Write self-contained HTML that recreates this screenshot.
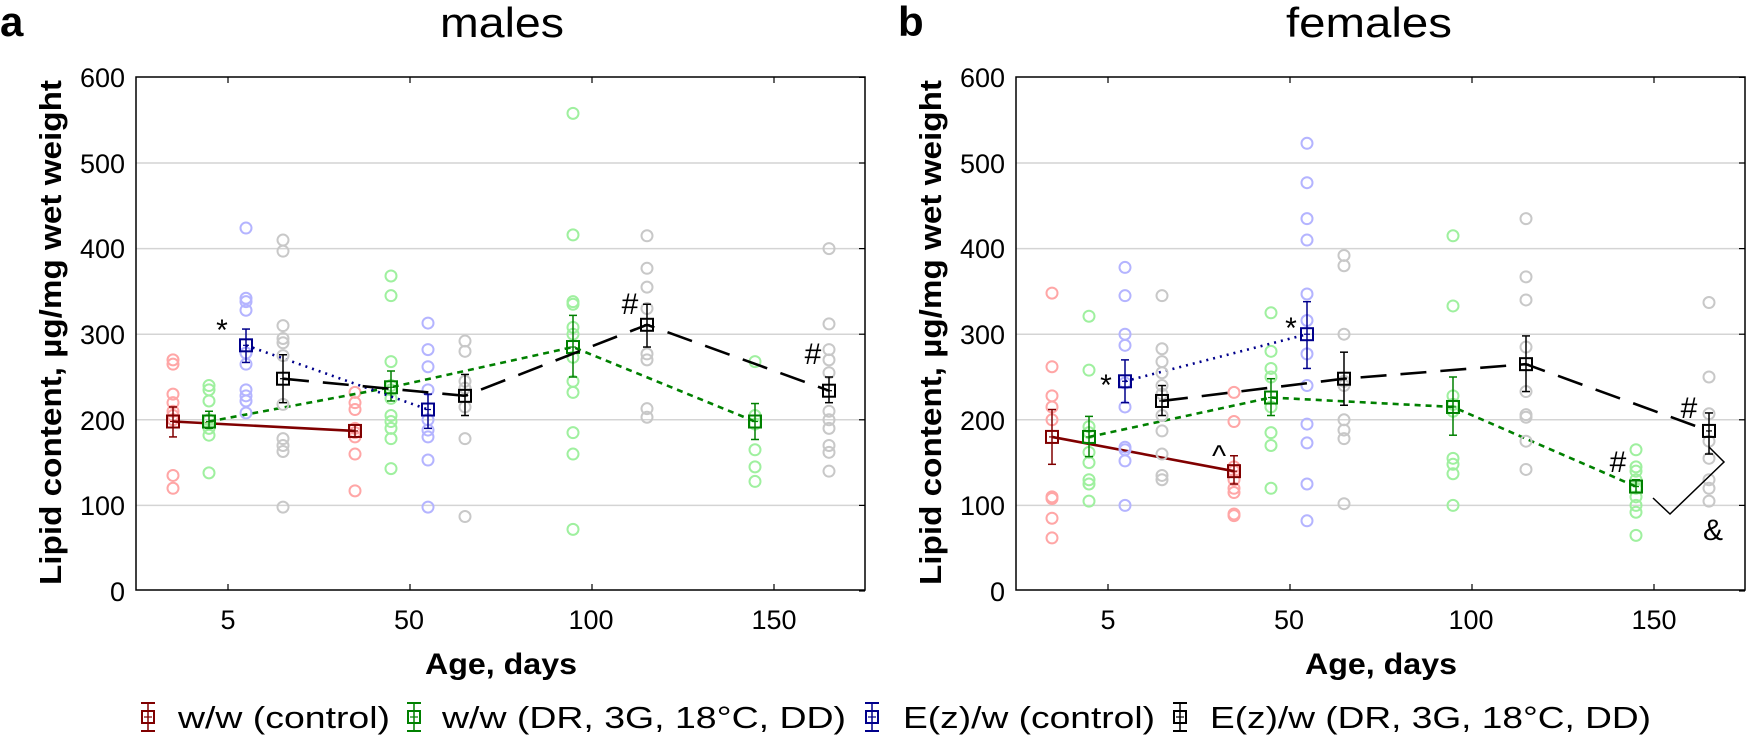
<!DOCTYPE html>
<html><head><meta charset="utf-8"><style>
html,body{margin:0;padding:0;background:#fff}
svg{display:block}
.tk{font-family:"Liberation Sans Narrow","Liberation Sans",sans-serif;font-size:27px;fill:#000}
.bl{font-family:"Liberation Sans",sans-serif;font-weight:bold;fill:#000}
.tt{font-family:"Liberation Sans",sans-serif;font-size:42px;fill:#000}
.lg{font-family:"Liberation Sans Narrow","Liberation Sans",sans-serif;font-size:31px;fill:#000}
.an{font-family:"Liberation Sans",sans-serif;font-size:30px;fill:#000}
</style></head><body>
<svg id="s" width="1746" height="741" viewBox="0 0 1746 741" xmlns="http://www.w3.org/2000/svg">
<g id="g"></g>
<text class="bl" x="0" y="36" font-size="42">a</text>
<text class="bl" x="898" y="36" font-size="42">b</text>
<text class="tt" x="440" y="37" textLength="124" lengthAdjust="spacingAndGlyphs">males</text>
<text class="tt" x="1286" y="37" textLength="166" lengthAdjust="spacingAndGlyphs">females</text>
<text class="bl" font-size="31" transform="translate(61,333) rotate(-90)" x="-252" textLength="505" lengthAdjust="spacingAndGlyphs">Lipid content, µg/mg wet weight</text>
<text class="bl" font-size="31" transform="translate(941,333) rotate(-90)" x="-252" textLength="505" lengthAdjust="spacingAndGlyphs">Lipid content, µg/mg wet weight</text>
<g class="tk" text-anchor="end">
<text x="125" y="87">600</text><text x="125" y="173">500</text><text x="125" y="258">400</text><text x="125" y="344">300</text><text x="125" y="430">200</text><text x="125" y="515">100</text><text x="125" y="601">0</text>
<text x="1005" y="87">600</text><text x="1005" y="173">500</text><text x="1005" y="258">400</text><text x="1005" y="344">300</text><text x="1005" y="430">200</text><text x="1005" y="515">100</text><text x="1005" y="601">0</text>
</g>
<g class="tk" text-anchor="middle">
<text x="228" y="629">5</text><text x="409" y="629">50</text><text x="591" y="629">100</text><text x="774" y="629">150</text>
<text x="1108" y="629">5</text><text x="1289" y="629">50</text><text x="1471" y="629">100</text><text x="1654" y="629">150</text>
</g>
<text class="bl" font-size="30" x="425" y="674" textLength="152" lengthAdjust="spacingAndGlyphs">Age, days</text>
<text class="bl" font-size="30" x="1305" y="674" textLength="152" lengthAdjust="spacingAndGlyphs">Age, days</text>
<g class="lg">
<text x="178" y="728" textLength="212" lengthAdjust="spacingAndGlyphs">w/w (control)</text>
<text x="442" y="728" textLength="404" lengthAdjust="spacingAndGlyphs">w/w (DR, 3G, 18°C, DD)</text>
<text x="903" y="728" textLength="252" lengthAdjust="spacingAndGlyphs">E(z)/w (control)</text>
<text x="1210" y="728" textLength="441" lengthAdjust="spacingAndGlyphs">E(z)/w (DR, 3G, 18°C, DD)</text>
</g>
<g class="an" text-anchor="middle">
<text x="222" y="340">*</text>
<text x="630" y="314">#</text>
<text x="813" y="364">#</text>
<text x="1106" y="395">*</text>
<text x="1291" y="338">*</text>
<text x="1219" y="466">^</text>
<text x="1689" y="418">#</text>
<text x="1618" y="472">#</text>
<text x="1713" y="540">&amp;</text>
</g>
<polyline points="1653,498 1670,514 1724,462 1709,447" fill="none" stroke="#000" stroke-width="1.5"/>
</svg>
<script>
var NS="http://www.w3.org/2000/svg",G=document.getElementById('g');
function el(t,a){var e=document.createElementNS(NS,t);for(var k in a)e.setAttribute(k,a[k]);G.appendChild(e);return e;}
function Y(v){return 591-v*0.856;}
[[136,865],[1016,1745]].forEach(function(f){
 for(var v=100;v<=500;v+=100)el('line',{x1:f[0],x2:f[1],y1:Y(v),y2:Y(v),stroke:'#d4d4d4','stroke-width':1.5});
 for(var v=0;v<=600;v+=100)el('line',{x1:f[1]-6,x2:f[1],y1:Y(v),y2:Y(v),stroke:'#000','stroke-width':1.2});
 for(var i=0;i<4;i++){var x=f[0]+92+i*182;el('line',{x1:x,x2:x,y1:77,y2:83,stroke:'#000','stroke-width':1.2});el('line',{x1:x,x2:x,y1:584,y2:590,stroke:'#000','stroke-width':1.2});}
 el('rect',{x:f[0],y:77,width:f[1]-f[0],height:513,fill:'none',stroke:'#000','stroke-width':1.5});
});
var C={r:['#ffa6a6','#800000','none'],g:['#9ff09f','#008000','6,5'],b:['#b4b4ff','#00008b','2,5'],k:['#c8c8c8','#000','26,14']};
function series(c,groups){
 groups.forEach(function(d){d.p.forEach(function(v){el('circle',{cx:d.x,cy:Y(v),r:5.5,fill:'none',stroke:C[c][0],'stroke-width':2});});});
 var pts=groups.map(function(d){return d.x+','+Y(d.m);}).join(' ');
 var a={points:pts,fill:'none',stroke:C[c][1],'stroke-width':2.6};if(C[c][2]!='none')a['stroke-dasharray']=C[c][2];
 el('polyline',a);
 groups.forEach(function(d){var s=C[c][1];
  el('line',{x1:d.x,x2:d.x,y1:Y(d.lo),y2:Y(d.hi),stroke:s,'stroke-width':1.5});
  el('line',{x1:d.x-4,x2:d.x+4,y1:Y(d.lo),y2:Y(d.lo),stroke:s,'stroke-width':1.5});
  el('line',{x1:d.x-4,x2:d.x+4,y1:Y(d.hi),y2:Y(d.hi),stroke:s,'stroke-width':1.5});
  el('rect',{x:d.x-6,y:Y(d.m)-6,width:12,height:12,fill:'none',stroke:s,'stroke-width':2});
  el('line',{x1:d.x-3,x2:d.x+3,y1:Y(d.m),y2:Y(d.m),stroke:s,'stroke-width':1.2});
 });
}
series('r',[{x:173,m:198,lo:180,hi:215,p:[270,265,230,220,210,200,205,135,120]},{x:355,m:187,lo:180,hi:194,p:[232,220,212,190,185,180,160,117]}]);
series('g',[{x:209,m:198,lo:190,hi:210,p:[240,235,222,200,190,182,138]},{x:391,m:238,lo:222,hi:257,p:[368,345,268,240,235,225,205,198,190,178,143]},{x:573,m:285,lo:250,hi:322,p:[558,416,338,335,308,300,273,245,232,185,160,72]},{x:755,m:198,lo:177,hi:219,p:[268,205,195,165,145,128]}]);
series('b',[{x:246,m:287,lo:267,hi:306,p:[424,342,338,328,278,265,235,228,222,208]},{x:428,m:212,lo:190,hi:230,p:[313,282,262,235,200,188,180,153,98]}]);
series('k',[{x:283,m:248,lo:220,hi:276,p:[410,397,310,295,290,275,218,178,170,163,98]},{x:465,m:228,lo:205,hi:253,p:[292,280,245,237,215,178,87]},{x:647,m:311,lo:285,hi:335,p:[415,377,355,330,277,270,213,203]},{x:829,m:234,lo:220,hi:250,p:[400,312,282,270,255,210,200,190,170,162,140]}]);
series('r',[{x:1052,m:180,lo:148,hi:212,p:[348,262,228,215,200,110,108,85,62]},{x:1234,m:140,lo:125,hi:158,p:[232,198,145,140,130,120,115,90,88]}]);
series('g',[{x:1089,m:180,lo:157,hi:204,p:[321,258,192,185,162,150,130,125,105]},{x:1271,m:226,lo:205,hi:248,p:[325,280,260,250,215,185,170,120]},{x:1453,m:215,lo:182,hi:250,p:[415,333,228,218,210,155,148,137,100]},{x:1636,m:122,lo:115,hi:130,p:[165,145,140,130,120,110,100,92,65]}]);
series('b',[{x:1125,m:245,lo:220,hi:270,p:[378,345,300,287,243,215,168,165,152,100]},{x:1307,m:300,lo:260,hi:338,p:[523,477,435,410,347,316,277,240,195,173,125,82]}]);
series('k',[{x:1162,m:222,lo:205,hi:240,p:[345,283,268,255,240,230,205,187,160,135,130]},{x:1344,m:248,lo:217,hi:279,p:[392,380,300,245,240,200,188,178,102]},{x:1526,m:265,lo:233,hi:298,p:[435,367,340,285,233,206,203,175,142]},{x:1709,m:187,lo:160,hi:208,p:[337,250,207,175,155,130,120,105]}]);
[[148,'#800000'],[414,'#008000'],[872,'#00008b'],[1180,'#000']].forEach(function(l){var x=l[0],s=l[1];
 el('line',{x1:x,x2:x,y1:703,y2:731,stroke:s,'stroke-width':1.5});
 el('line',{x1:x-7,x2:x+7,y1:703,y2:703,stroke:s,'stroke-width':2});
 el('line',{x1:x-7,x2:x+7,y1:731,y2:731,stroke:s,'stroke-width':2});
 el('rect',{x:x-6,y:711,width:12,height:12,fill:'none',stroke:s,'stroke-width':2});
 el('line',{x1:x-4,x2:x+4,y1:717,y2:717,stroke:s,'stroke-width':1.2});
});
</script>
</body></html>
